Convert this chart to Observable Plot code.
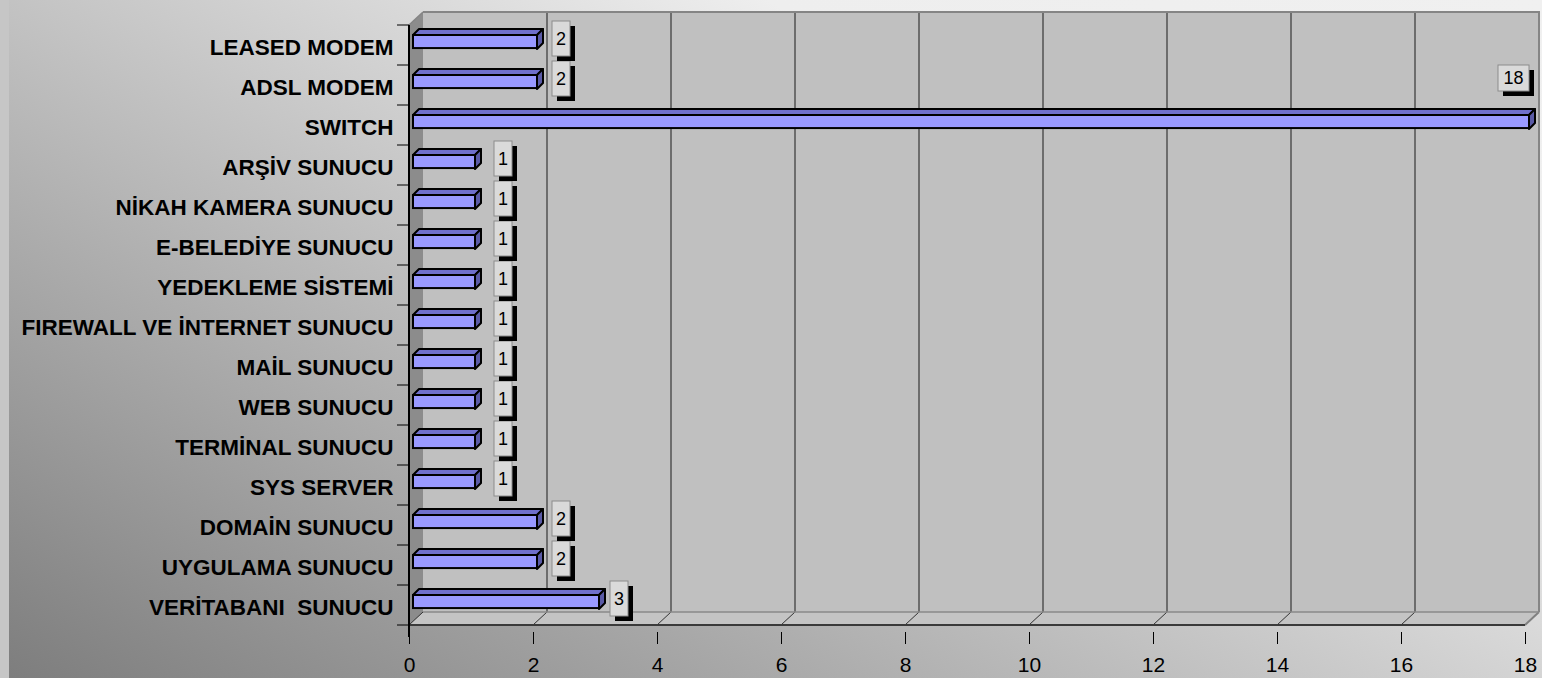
<!DOCTYPE html>
<html><head><meta charset="utf-8">
<script src="https://cdn.jsdelivr.net/npm/d3@7"></script>
<script src="https://cdn.jsdelivr.net/npm/@observablehq/plot@0.6"></script>
<style>
html,body{margin:0;padding:0;overflow:hidden;}
#chart{width:1542px;height:678px;position:relative;
background: linear-gradient(to right, #c6c6c6 0, #c6c6c6 9px, transparent 9px), linear-gradient(29deg, #7d7d7d 0%, #eeeeee 72%, #f0f0f0 100%);}
#chart svg{display:block;}
svg text{white-space:pre;}
</style></head><body><div id="chart"></div>
<script>
// Data (first category is at the bottom, as in the original chart)
const categories = ["VERİTABANI  SUNUCU","UYGULAMA SUNUCU","DOMAİN SUNUCU","SYS SERVER","TERMİNAL SUNUCU","WEB SUNUCU","MAİL SUNUCU","FIREWALL VE İNTERNET SUNUCU","YEDEKLEME SİSTEMİ","E-BELEDİYE SUNUCU","NİKAH KAMERA SUNUCU","ARŞİV SUNUCU","SWITCH","ADSL MODEM","LEASED MODEM"];
const values = [3,2,2,1,1,1,1,1,1,1,1,1,18,2,2];
const xTicks = [0,2,4,6,8,10,12,14,16,18];
const xMax = 18;

const data = categories.map((c,i)=>({category:c, value:values[i]}));
const yDomain = categories.slice().reverse();

const D = {dx:14, dy:-13};   // depth of the 3D walls
const B = {dx:6, dy:-6};     // depth of the 3D bars
const barShift = 4, barTop = 10, barBottom = 24;

function line(g, x1, y1, x2, y2, stroke, w){
  g.append("line").attr("x1",x1).attr("y1",y1).attr("x2",x2).attr("y2",y2)
   .attr("stroke",stroke).attr("stroke-width",w);
}

function scene(index, scales){
  const x = scales.x, y = scales.y, bw = y.bandwidth();
  const x0 = x(0), x1 = x(xMax);
  const yTop = y(yDomain[0]), yBot = y(yDomain[yDomain.length-1]) + bw;
  const g = d3.create("svg:g");
  g.append("rect").attr("x", x0+D.dx).attr("y", yTop+D.dy).attr("width", x1-x0).attr("height", yBot-yTop).attr("fill","#c0c0c0");
  g.append("path").attr("d", `M${x0},${yBot}L${x1},${yBot}L${x1+D.dx},${yBot+D.dy}L${x0+D.dx},${yBot+D.dy}Z`).attr("fill","#c4c4c4");
  g.append("path").attr("d", `M${x0},${yTop}L${x0+D.dx},${yTop+D.dy}L${x0+D.dx},${yBot+D.dy}L${x0},${yBot}Z`).attr("fill","#8c8c8c");
  for (const t of xTicks) {
    const xt = x(t);
    if (t > 0 && t < xMax) line(g, xt+D.dx, yTop+D.dy, xt+D.dx, yBot+D.dy, "#1a1a1a", 1);
    line(g, xt, yBot, xt+D.dx, yBot+D.dy, t === xMax ? "#808080" : "#333", t === xMax ? 2 : 1);
  }
  g.append("path").attr("d", `M${x0+D.dx},${yTop+D.dy}L${x1+D.dx},${yTop+D.dy}L${x1+D.dx},${yBot+D.dy}`)
   .attr("fill","none").attr("stroke","#858585").attr("stroke-width",2);
  line(g, x0+D.dx, yBot+D.dy, x1+D.dx, yBot+D.dy, "#8a8a8a", 1.5);
  line(g, x0, yTop, x0+D.dx, yTop+D.dy, "#858585", 1.5);
  line(g, x0, yBot, x1, yBot, "#3a3a3a", 2);
  line(g, x0, yTop, x0, yBot+12, "#000", 2);
  for (let k = 0; k <= yDomain.length; k++) {
    const yb = yTop + k*bw;
    line(g, x0-12, yb, x0, yb, "#000", 1);
  }
  return g.node();
}

function barFaces(index, scales){
  const x = scales.x, y = scales.y;
  const g = d3.create("svg:g").attr("stroke","#000").attr("stroke-width",2).attr("stroke-linejoin","round");
  for (const d of data) {
    const xa = x(0)+barShift, xb = x(d.value)+barShift;
    const yt = y(d.category)+barTop, yb = y(d.category)+barBottom;
    g.append("path").attr("fill","#7070cc")
     .attr("d", `M${xa},${yt}L${xa+B.dx},${yt+B.dy}L${xb+B.dx},${yt+B.dy}L${xb},${yt}Z`);
    g.append("path").attr("fill","#5a5aa6")
     .attr("d", `M${xb},${yt}L${xb+B.dx},${yt+B.dy}L${xb+B.dx},${yb+B.dy}L${xb},${yb}Z`);
  }
  return g.node();
}

function labels(index, scales){
  const x = scales.x, y = scales.y;
  const g = d3.create("svg:g");
  for (const d of data) {
    const s = String(d.value);
    const w = 13*s.length + 5;
    let h = 35;
    let cx = x(d.value) + 36 - 4*d.value;
    let cy = y(d.category) + 13.5;
    if (cx - w/2 < x(d.value) + barShift + B.dx + 4) {
      // no room to the right: the label sits above the bar end
      cx = x(d.value) + barShift - w/2;
      cy = y(d.category) - 27;
      h = 26;
    }
    g.append("rect").attr("x", cx-w/2+5).attr("y", cy-h/2+5).attr("width", w).attr("height", h).attr("fill","#000");
    g.append("rect").attr("x", cx-w/2).attr("y", cy-h/2).attr("width", w).attr("height", h)
     .attr("fill","#dadada").attr("stroke","#8c8c8c").attr("stroke-width",1);
    g.append("text").attr("x", cx).attr("y", cy).attr("dy","0.36em").attr("text-anchor","middle")
     .attr("font-size", 18).attr("fill","#000").text(s);
  }
  return g.node();
}

const plot = Plot.plot({
  width: 1542,
  height: 678,
  marginLeft: 409,
  marginRight: 17,
  marginTop: 18,
  marginBottom: 46,
  style: {background: "transparent", fontFamily: "'Liberation Sans', Arial, sans-serif", overflow: "visible"},
  x: {domain: [0, xMax]},
  y: {domain: yDomain, padding: 0},
  marks: [
    scene,
    barFaces,
    Plot.barX(data, {x1: 0, x2: "value", y: "category", dx: barShift, insetTop: barTop, insetBottom: 40.93 - barBottom,
      fill: "#9999ff", stroke: "#000", strokeWidth: 2}),
    labels,
    Plot.axisX({ticks: xTicks, tickSize: 12, tickPadding: 13, fontSize: 21, label: null, stroke: "#000"}),
    Plot.axisY({tickSize: 0, tickPadding: 16, fontSize: 22.5, fontWeight: "bold", dy: 2, label: null, fill: "#000"})
  ]
});
document.getElementById("chart").appendChild(plot);
</script>
</body></html>
